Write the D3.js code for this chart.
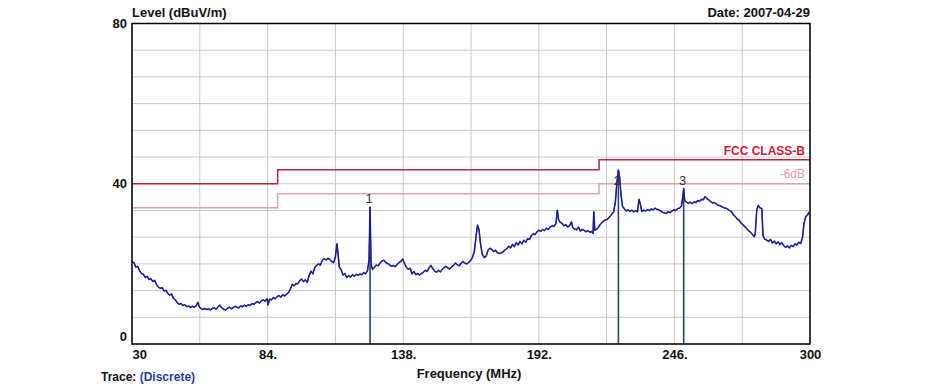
<!DOCTYPE html>
<html>
<head>
<meta charset="utf-8">
<script src="https://cdn.jsdelivr.net/npm/d3@7"></script>
<style>
  html, body { margin: 0; padding: 0; background: #ffffff; }
  svg { display: block; font-family: Arial, "Liberation Sans", sans-serif; }
</style>
</head>
<body>
<svg id="chart" width="944" height="385"></svg>
<script>
// ---- data ----
const traceFreqs = [
30.0,30.8,31.5,32.3,33.0,33.8,34.5,35.3,36.0,36.8,37.5,38.3,39.0,39.8,40.5,41.3,42.0,42.8,43.5,44.3,
45.0,45.8,46.5,47.3,48.0,48.8,49.5,50.3,51.0,51.8,52.5,53.3,54.0,54.8,55.5,56.2,56.8,57.5,58.3,59.0,
59.8,60.5,61.3,62.0,62.8,63.5,64.3,65.0,65.8,66.5,67.3,68.0,68.8,69.5,70.3,71.0,71.8,72.5,73.3,74.0,
74.8,75.5,76.3,77.0,77.8,78.5,79.3,80.0,80.8,81.5,82.3,83.0,83.8,84.2,84.8,85.5,86.3,87.0,87.8,88.5,
89.3,90.0,90.8,91.5,92.3,93.0,93.8,94.5,95.3,96.0,96.8,97.5,98.3,99.0,99.8,100.5,101.3,102.0,102.8,103.5,
104.3,105.0,105.8,106.5,107.3,108.0,108.8,109.5,110.3,111.0,111.6,112.0,112.5,113.3,114.0,114.8,115.5,116.3,117.0,117.8,
118.5,119.3,120.0,120.8,121.5,122.3,123.0,123.8,124.4,124.8,125.2,125.8,126.5,127.3,128.0,128.8,129.5,130.3,131.0,131.8,
132.5,133.3,134.0,134.8,135.5,136.3,137.0,137.8,138.5,139.3,140.0,140.8,141.5,142.3,143.0,143.8,144.5,145.3,146.0,146.8,
147.5,148.3,149.0,149.8,150.5,151.3,152.0,152.8,153.5,154.3,155.0,155.8,156.5,157.3,158.0,158.8,159.5,160.3,161.0,161.8,
162.5,163.3,164.0,164.8,165.5,166.3,167.0,167.6,168.2,168.8,169.5,170.3,171.0,171.8,172.5,173.3,174.0,174.8,175.5,176.3,
177.0,177.8,178.5,179.3,180.0,180.8,181.5,182.3,183.0,183.8,184.5,185.3,186.0,186.8,187.5,188.3,189.0,189.8,190.5,191.3,
192.0,192.8,193.5,194.3,195.0,195.8,196.5,197.3,198.0,198.8,199.4,199.9,200.5,201.3,202.0,202.8,203.5,204.3,205.0,205.5,
206.3,207.0,207.8,208.5,209.3,210.0,210.8,211.5,212.3,213.0,213.6,213.9,214.3,215.0,215.8,216.5,217.3,218.0,218.8,219.5,
220.3,221.0,221.8,222.5,223.2,223.7,224.2,224.7,225.3,226.0,226.8,227.5,228.3,229.0,229.8,230.5,231.3,231.9,232.5,233.0,
233.8,234.5,235.3,236.0,236.8,237.5,238.3,239.0,239.8,240.5,241.3,242.0,242.8,243.5,244.3,245.0,245.8,246.5,247.3,248.0,
248.8,249.4,249.7,250.1,250.8,251.5,252.3,253.0,253.8,254.5,255.3,256.0,256.8,257.5,258.2,259.0,259.8,260.5,261.3,262.0,
262.8,263.5,264.3,265.0,265.8,266.5,267.3,268.0,268.8,269.5,270.3,271.0,271.8,272.5,273.3,274.0,274.8,275.5,276.3,277.0,
277.8,278.2,278.8,279.4,280.0,280.8,281.3,282.0,282.8,283.5,284.3,285.0,285.8,286.5,287.3,288.0,288.8,289.5,290.3,291.0,
291.8,292.5,293.3,294.0,294.8,295.5,296.3,297.0,297.6,298.3,299.0,299.7
];
const traceLevels = [
20.5,20.3,19.2,19.4,18.3,17.6,17.4,16.6,16.9,16.1,16.3,15.6,15.9,14.8,14.2,13.9,14.1,13.2,13.4,12.6,
12.2,12.5,11.4,11.0,10.3,9.9,10.1,9.6,9.8,9.3,9.5,9.1,9.4,9.2,9.5,10.4,9.3,8.8,8.6,8.9,
8.6,8.8,8.5,8.9,9.0,8.7,9.3,9.7,9.0,8.7,8.5,8.9,9.2,8.8,9.1,9.4,9.2,9.0,9.5,9.3,
9.7,9.4,9.8,9.6,10.1,9.9,10.3,10.6,10.2,10.8,11.0,10.7,11.3,9.8,11.2,11.0,11.6,11.3,11.8,12.1,
11.7,12.3,12.0,12.4,12.8,13.6,14.9,14.5,15.1,15.0,15.8,16.2,15.6,16.0,15.4,17.0,18.2,17.5,19.1,19.6,
20.0,19.7,20.9,21.3,21.0,21.4,21.1,20.6,20.3,21.8,25.0,23.0,19.3,18.5,17.2,17.6,16.6,17.1,16.7,17.3,
16.9,17.4,17.1,17.5,17.3,17.8,17.5,18.3,21.0,34.2,20.0,18.6,19.1,19.7,19.5,20.2,20.7,20.9,20.4,20.1,
19.8,19.4,19.6,19.3,19.8,20.3,20.6,21.2,20.1,19.1,18.7,18.9,17.5,18.1,17.3,17.6,17.2,17.6,17.9,18.4,
18.1,19.0,19.6,18.8,18.2,17.9,18.4,18.0,18.6,19.1,19.4,19.0,18.7,19.3,19.6,20.2,19.8,19.5,20.1,20.6,
20.2,20.0,20.3,20.8,21.5,23.0,26.8,29.7,28.5,25.0,22.4,21.6,21.9,23.4,23.9,23.6,23.1,23.4,22.8,22.6,
22.7,23.0,23.5,23.8,24.4,24.0,24.9,24.3,25.3,24.7,25.6,25.0,25.9,25.4,26.3,26.1,27.0,27.5,27.3,28.0,
28.4,28.1,28.6,28.3,28.9,28.6,29.2,29.5,29.3,30.0,33.4,31.0,30.4,30.1,29.5,29.8,29.2,29.6,30.5,29.1,
28.7,28.5,29.2,28.2,28.6,28.4,28.0,28.3,27.9,28.1,27.6,33.0,28.4,28.6,29.2,29.9,30.4,30.8,31.0,31.2,
31.8,32.4,33.0,35.5,41.0,43.4,41.5,37.6,34.4,33.8,33.2,33.5,33.1,33.4,33.0,33.3,33.0,36.1,34.8,33.1,
33.4,33.2,33.5,33.3,33.7,33.5,33.9,33.6,33.5,33.2,32.9,32.7,32.6,33.0,32.8,33.2,33.5,33.3,33.8,33.9,
34.4,37.0,38.8,35.8,35.4,35.1,35.4,35.0,35.5,35.3,35.8,35.6,36.1,36.0,36.8,36.3,35.9,35.5,35.2,35.3,
34.9,34.6,34.5,34.2,34.0,33.9,33.6,33.3,33.0,32.2,31.8,31.2,30.9,30.2,29.8,29.3,28.8,28.3,27.9,27.4,
26.8,27.5,33.5,34.6,34.0,33.8,27.0,26.2,25.9,25.6,26.1,25.2,25.7,25.0,25.5,24.8,25.3,24.6,24.1,24.5,
24.0,24.6,24.3,25.0,24.7,25.4,25.1,26.5,30.0,31.8,32.2,33.0
];
const limitFreqs = [30, 88, 88, 216, 216, 300];
const fccLevels  = [40, 40, 43.5, 43.5, 46, 46];
const marginDb = 6;
const markerFreqs  = [124.8, 223.7, 249.7];
const markerLevels = [34.2, 43.4, 38.8];
const markerNames  = ["1", "2", "3"];
const xTickValues = [30, 84, 138, 192, 246, 300];
const xTickLabels = ["30", "84.", "138.", "192.", "246.", "300"];
const yTickValues = [0, 40, 80];
const yTickLabels = ["0", "40", "80"];

// ---- layout ----
const svg = d3.select("#chart");
const x = d3.scaleLinear().domain([30, 300]).range([132, 810]);
const y = d3.scaleLinear().domain([0, 80]).range([344, 23.5]);

svg.append("rect").attr("x", 132).attr("y", 23.5).attr("width", 678).attr("height", 320.5).attr("fill", "#fff");

// grid
const gx = d3.range(0, 11).map(i => 30 + i * 27);
const gy = d3.range(0, 13).map(i => i * 80 / 12);
svg.append("g").selectAll("line").data(gx).join("line")
  .attr("x1", d => x(d)).attr("x2", d => x(d)).attr("y1", y(0)).attr("y2", y(80))
  .attr("stroke", "#c9c9c9").attr("stroke-width", 1);
svg.append("g").selectAll("line").data(gy).join("line")
  .attr("x1", x(30)).attr("x2", x(300)).attr("y1", d => y(d)).attr("y2", d => y(d))
  .attr("stroke", "#c9c9c9").attr("stroke-width", 1);

// limit lines
const limitLine = d3.line().x(d => x(d[0])).y(d => y(d[1]));
const fcc = limitFreqs.map((f, i) => [f, fccLevels[i]]);
const margin = limitFreqs.map((f, i) => [f, fccLevels[i] - marginDb]);
svg.append("path").attr("d", limitLine(margin)).attr("fill", "none")
  .attr("stroke", "#e2a3ab").attr("stroke-width", 1.5);
svg.append("path").attr("d", limitLine(fcc)).attr("fill", "none")
  .attr("stroke", "#b3283c").attr("stroke-width", 1.5);

svg.append("text").attr("x", 805).attr("y", y(46) - 5).attr("text-anchor", "end")
  .attr("font-size", 12).attr("font-weight", "bold").attr("fill", "#cc1b3c").text("FCC CLASS-B");
svg.append("text").attr("x", 805).attr("y", y(40) - 6).attr("text-anchor", "end")
  .attr("font-size", 12).attr("fill", "#e596a4").text("-6dB");

// markers
svg.append("g").selectAll("line").data(markerFreqs).join("line")
  .attr("x1", d => x(d)).attr("x2", d => x(d))
  .attr("y1", (d, i) => y(markerLevels[i])).attr("y2", y(0))
  .attr("stroke", "#26485f").attr("stroke-width", 1.6);

// trace
const trace = traceFreqs.map((f, i) => [f, traceLevels[i]]);
const traceLine = d3.line().x(d => x(d[0])).y(d => y(d[1]));
svg.append("path").attr("d", traceLine(trace)).attr("fill", "none")
  .attr("stroke", "#2b33c8").attr("stroke-width", 1.6).attr("stroke-linejoin", "round");
svg.append("path").attr("d", traceLine(trace)).attr("fill", "none")
  .attr("stroke", "#1c1f6e").attr("stroke-width", 1).attr("stroke-linejoin", "round");

// marker labels
svg.append("g").selectAll("text").data(markerFreqs).join("text")
  .attr("x", d => x(d) - 1)
  .attr("y", (d, i) => Math.max(y(markerLevels[i]) - 4, y(41) + 5))
  .attr("text-anchor", "middle").attr("font-size", 13).attr("fill", "#333")
  .text((d, i) => markerNames[i]);

// border
svg.append("rect").attr("x", 132).attr("y", 23.5).attr("width", 678).attr("height", 320.5)
  .attr("fill", "none").attr("stroke", "#000").attr("stroke-width", 1.5);

// axes
const xAxis = d3.axisBottom(x).tickValues(xTickValues).tickSize(0).tickPadding(6)
  .tickFormat((d, i) => xTickLabels[i]);
const gxa = svg.append("g").attr("transform", `translate(0,${y(0)})`).call(xAxis);
gxa.select(".domain").remove();
gxa.selectAll("text").attr("font-size", 13).attr("font-weight", "bold")
  .attr("font-family", "Arial, 'Liberation Sans', sans-serif").attr("fill", "#111")
  .attr("text-anchor", (d, i) => i === 0 ? "start" : "middle");

const yAxis = d3.axisLeft(y).tickValues(yTickValues).tickSize(0).tickPadding(5)
  .tickFormat((d, i) => yTickLabels[i]);
const gya = svg.append("g").attr("transform", `translate(${x(30)},0)`).call(yAxis);
gya.select(".domain").remove();
gya.selectAll("text").attr("font-size", 13).attr("font-weight", "bold")
  .attr("font-family", "Arial, 'Liberation Sans', sans-serif").attr("fill", "#111")
  .attr("dy", d => d === 0 ? "-0.3em" : "0.32em");

// titles
svg.append("text").attr("x", 132).attr("y", 17).attr("font-size", 13).attr("font-weight", "bold")
  .attr("fill", "#111").text("Level (dBuV/m)");
svg.append("text").attr("x", 810).attr("y", 17).attr("text-anchor", "end").attr("font-size", 13)
  .attr("font-weight", "bold").attr("fill", "#111").text("Date: 2007-04-29");
svg.append("text").attr("x", 469).attr("y", 378).attr("text-anchor", "middle").attr("font-size", 13)
  .attr("font-weight", "bold").attr("fill", "#111").text("Frequency (MHz)");
const tr = svg.append("text").attr("x", 101).attr("y", 381).attr("font-size", 12).attr("font-weight", "bold").attr("fill", "#111");
tr.append("tspan").text("Trace: ");
tr.append("tspan").attr("fill", "#1f3f9a").text("(Discrete)");
</script>
</body>
</html>
